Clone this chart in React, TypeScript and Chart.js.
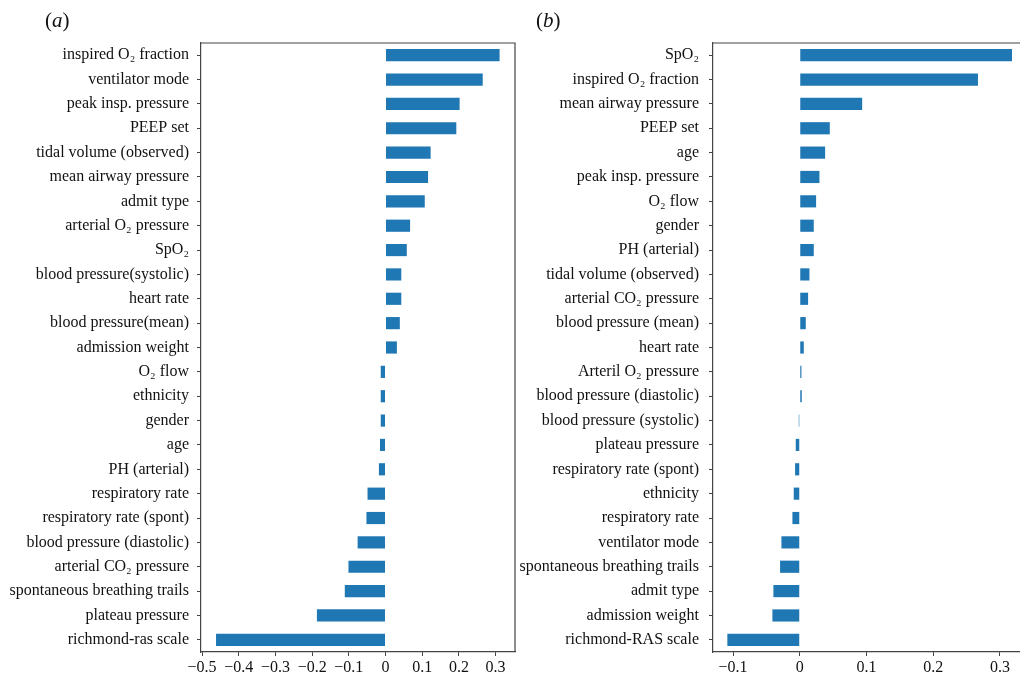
import React, { useEffect, useRef } from "react";
import { Chart, registerables } from "chart.js";

Chart.register(...registerables);

const FONT = '"Liberation Serif", "Times New Roman", "DejaVu Serif", serif';
const BAR_COLOR = "#1f77b4";
const AXIS_COLOR = "#444444";

const LEFT_LABELS = [
  "inspired O₂ fraction",
  "ventilator mode",
  "peak insp. pressure",
  "PEEP set",
  "tidal volume (observed)",
  "mean airway pressure",
  "admit type",
  "arterial O₂ pressure",
  "SpO₂",
  "blood pressure(systolic)",
  "heart rate",
  "blood pressure(mean)",
  "admission weight",
  "O₂ flow",
  "ethnicity",
  "gender",
  "age",
  "PH (arterial)",
  "respiratory rate",
  "respiratory rate (spont)",
  "blood pressure (diastolic)",
  "arterial CO₂ pressure",
  "spontaneous breathing trails",
  "plateau pressure",
  "richmond-ras scale",
];
const LEFT_VALUES = [
  0.311, 0.265, 0.202, 0.193, 0.123, 0.116, 0.107, 0.067, 0.058, 0.043, 0.043,
  0.039, 0.031, -0.013, -0.013, -0.013, -0.015, -0.018, -0.049, -0.052, -0.076,
  -0.101, -0.111, -0.187, -0.462,
];
const LEFT_TICKS = [-0.5, -0.4, -0.3, -0.2, -0.1, 0, 0.1, 0.2, 0.3];

const RIGHT_LABELS = [
  "SpO₂",
  "inspired O₂ fraction",
  "mean airway pressure",
  "PEEP set",
  "age",
  "peak insp. pressure",
  "O₂ flow",
  "gender",
  "PH (arterial)",
  "tidal volume (observed)",
  "arterial CO₂ pressure",
  "blood pressure (mean)",
  "heart rate",
  "Arteril O₂ pressure",
  "blood pressure (diastolic)",
  "blood pressure (systolic)",
  "plateau pressure",
  "respiratory rate (spont)",
  "ethnicity",
  "respiratory rate",
  "ventilator mode",
  "spontaneous breathing trails",
  "admit type",
  "admission weight",
  "richmond-RAS scale",
];
const RIGHT_VALUES = [
  0.318, 0.267, 0.0935, 0.045, 0.038, 0.0295, 0.0245, 0.021, 0.021, 0.0145,
  0.0125, 0.009, 0.006, 0.0025, 0.003, -0.0015, -0.006, -0.007, -0.009, -0.011,
  -0.0275, -0.0295, -0.0395, -0.041, -0.1085,
];
const RIGHT_TICKS = [-0.1, 0, 0.1, 0.2, 0.3];

function fmt(v: number): string {
  const r = Math.round(v * 10) / 10;
  if (r === 0) return "0";
  return r < 0 ? "\u2212" + Math.abs(r) : String(r);
}

type PanelProps = {
  labels: string[];
  values: number[];
  ticks: number[];
  min: number;
  max: number;
  left: number;
  width: number;
  yWidth: number;
  padRight: number;
  drawRight: boolean;
  labelPad: number;
};

function Panel(p: PanelProps) {
  const ref = useRef<HTMLCanvasElement | null>(null);
  useEffect(() => {
    if (!ref.current) return;
    const boxPlugin = {
      id: "boxPlugin",
      afterDraw(chart: any) {
        const { ctx, chartArea } = chart;
        ctx.save();
        ctx.strokeStyle = AXIS_COLOR;
        ctx.lineWidth = 1.2;
        ctx.beginPath();
        ctx.moveTo(chartArea.left, chartArea.top);
        ctx.lineTo(chartArea.right, chartArea.top);
        if (p.drawRight) {
          ctx.lineTo(chartArea.right, chartArea.bottom);
        }
        ctx.stroke();
        ctx.restore();
      },
    };
    const chart = new Chart(ref.current, {
      type: "bar",
      data: {
        labels: p.labels,
        datasets: [
          {
            data: p.values,
            backgroundColor: BAR_COLOR,
            borderWidth: 0,
            barPercentage: 0.5,
            categoryPercentage: 1,
          },
        ],
      },
      options: {
        indexAxis: "y",
        responsive: false,
        animation: false,
        devicePixelRatio: 1,
        layout: { padding: { top: 43, right: p.padRight, left: 0, bottom: 0 } },
        plugins: {
          legend: { display: false },
          tooltip: { enabled: false },
        },
        scales: {
          x: {
            type: "linear",
            min: p.min,
            max: p.max,
            afterFit: (scale: any) => {
              scale.height = 24;
            },
            afterBuildTicks: (scale: any) => {
              scale.ticks = p.ticks.map((v) => ({ value: v }));
            },
            grid: {
              drawOnChartArea: false,
              drawTicks: true,
              tickLength: 4,
              tickColor: AXIS_COLOR,
              tickWidth: 1,
            },
            border: { display: true, color: AXIS_COLOR, width: 1.2 },
            ticks: {
              color: "#111",
              font: { family: FONT, size: 16 },
              padding: 2,
              maxRotation: 0,
              autoSkip: false,
              callback: (v: any) => fmt(Number(v)),
            },
          },
          y: {
            type: "category",
            offset: true,
            afterFit: (scale: any) => {
              scale.width = p.yWidth;
            },
            grid: {
              offset: false,
              drawOnChartArea: false,
              drawTicks: true,
              tickLength: 4,
              tickColor: AXIS_COLOR,
              tickWidth: 1,
            },
            border: { display: true, color: AXIS_COLOR, width: 1.2 },
            ticks: {
              color: "#111",
              font: { family: FONT, size: 16 },
              padding: p.labelPad,
              autoSkip: false,
            },
          },
        },
      },
      plugins: [boxPlugin],
    } as any);
    return () => chart.destroy();
  }, []);
  return (
    <canvas
      ref={ref}
      width={p.width}
      height={676}
      style={{
        position: "absolute",
        left: p.left,
        top: 0,
        width: p.width,
        height: 676,
      }}
    />
  );
}

const panelLabel: React.CSSProperties = {
  position: "absolute",
  top: 8,
  fontFamily: FONT,
  fontSize: 21,
  color: "#111",
  lineHeight: "24px",
};

export default function App() {
  return (
    <div
      style={{
        position: "fixed",
        left: 0,
        top: 0,
        width: 1020,
        height: 676,
        background: "#fff",
        overflow: "hidden",
      }}
    >
      <Panel
        labels={LEFT_LABELS}
        values={LEFT_VALUES}
        ticks={LEFT_TICKS}
        min={-0.503}
        max={0.353}
        left={0}
        width={530}
        yWidth={201}
        padRight={15}
        drawRight={true}
        labelPad={8}
      />
      <Panel
        labels={RIGHT_LABELS}
        values={RIGHT_VALUES}
        ticks={RIGHT_TICKS}
        min={-0.13}
        max={0.33}
        left={520}
        width={500}
        yWidth={193}
        padRight={0}
        drawRight={false}
        labelPad={10}
      />
      <div style={{ ...panelLabel, left: 45 }}>
        (<i>a</i>)
      </div>
      <div style={{ ...panelLabel, left: 536 }}>
        (<i>b</i>)
      </div>
    </div>
  );
}
